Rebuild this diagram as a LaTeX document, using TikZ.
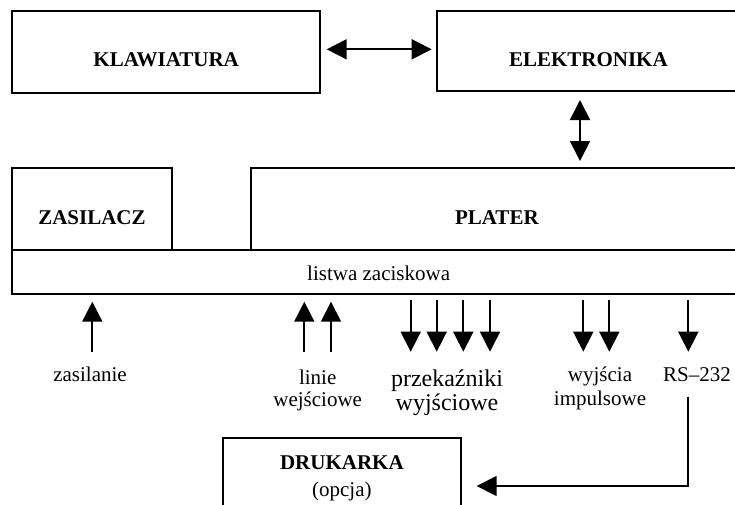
\documentclass[tikz,border=0pt]{standalone}
\usepackage{fontspec}
\setmainfont{Liberation Serif}
\usetikzlibrary{arrows.meta}
\begin{document}
\begin{tikzpicture}[x=1pt,y=-1pt,
  box/.style={draw, line width=2pt, rectangle, inner sep=0pt, outer sep=0pt},
  title/.style={font=\fontsize{21}{22}\selectfont\bfseries, anchor=base, inner sep=0pt},
  lab/.style={font=\fontsize{21}{22}\selectfont, align=center, anchor=base, inner sep=0pt},
  biglab/.style={font=\fontsize{24}{24}\selectfont, align=center, anchor=base, inner sep=0pt},
  conn/.style={line width=1.7pt, -{Triangle[length=20pt,width=20pt]}},
  conn2/.style={line width=1.7pt, {Triangle[length=20pt,width=20pt]}-{Triangle[length=20pt,width=20pt]}}]
\useasboundingbox (0,0) rectangle (735,504);
\clip (0,0) rectangle (735,504);

% boxes
\node[box, minimum width=307.7pt, minimum height=81.7pt] (klaw) at (166.15,51.85) {};
\node[box, minimum width=303.3pt, minimum height=80pt] (elek) at (588.35,51) {};
\node[box, minimum width=732.7pt, minimum height=44.3pt] (lis) at (378.65,272.15) {};
\node[box, minimum width=159.4pt, minimum height=81.7pt] (zas) at (92,209.15) {};
\node[box, minimum width=492.3pt, minimum height=81.7pt] (plat) at (496.85,209.15) {};
\node[box, minimum width=238.3pt, minimum height=81.7pt] (dru) at (341.85,479.15) {};

% box texts
\node[title] (klawt) at (166.15,66.7) {KLAWIATURA};
\node[title] (elekt) at (588.35,66.2) {ELEKTRONIKA};
\node[title] (zast) at (92,224) {ZASILACZ};
\node[title] (platt) at (496.85,224) {PLATER};
\node[lab] (list) at (378.65,280) {listwa zaciskowa};
\node[lab, font=\fontsize{21}{27.7}\selectfont] (drut) at (341.85,496.7) {\bfseries DRUKARKA\\(opcja)};

% labels (anchor base = baseline of last line)
\node[lab] (zasl) at (90,381.7) {zasilanie};
\node[lab] (linl) at (317.7,406.7) {linie\\wejściowe};
\node[biglab] (przl) at (447,410.7) {przekaźniki\\wyjściowe};
\node[lab, font=\fontsize{21}{23.3}\selectfont] (wyjl) at (600,405) {wyjścia\\impulsowe};
\node[lab] (rsl) at (697,381.7) {RS–232};

% connectors
\draw[conn2, shorten <=6.7pt, shorten >=5pt] (klaw.east |- 0,49.3) -- (elek.west |- 0,49.3);
\draw[conn2, shorten <=9pt, shorten >=7.3pt] (580,0 |- elek.south) -- (580,0 |- plat.north);
\foreach \x in {410.7,436.7,463.3,490,583.3,609.3,688.3}
  \draw[conn, shorten <=5.7pt] (\x,0 |- lis.south) -- (\x,351.7);
\foreach \x in {92.3,304.3,331}
  \draw[conn, shorten >=7.4pt] (\x,352.3) -- (\x,0 |- lis.south);
\coordinate (rsend) at (688.3,396.7);
\draw[conn, shorten >=15.7pt] (rsend) |- (dru.east |- 0,486);
\end{tikzpicture}
\end{document}
